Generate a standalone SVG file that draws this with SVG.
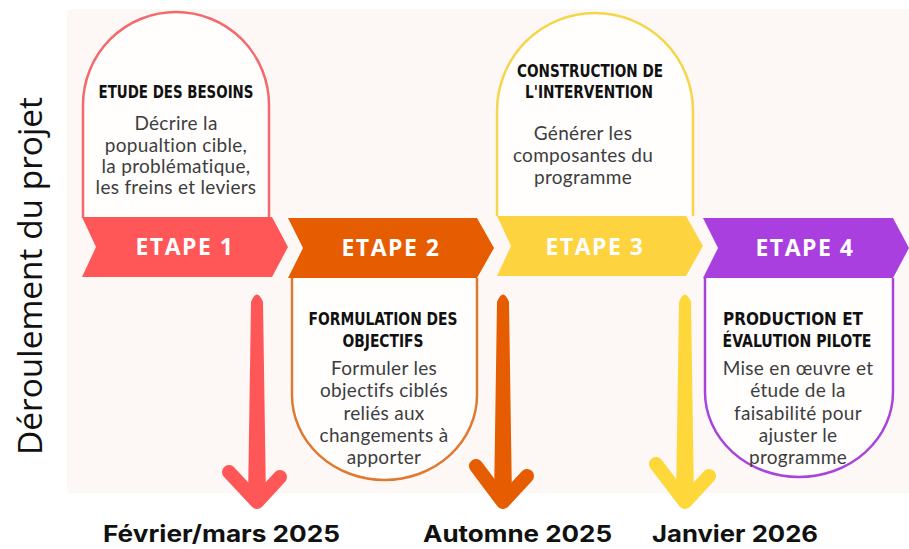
<svg xmlns="http://www.w3.org/2000/svg" width="909" height="549" viewBox="0 0 909 549">
<style>
.title{font-family:"Liberation Sans Narrow","DejaVu Sans",sans-serif;font-stretch:condensed;font-weight:bold;font-size:17px;fill:#111;text-anchor:middle}
.body{font-family:Lato,"Noto Sans",sans-serif;font-size:19px;letter-spacing:0.3px;fill:#3d3d3d;text-anchor:middle}
.etape{font-family:"Open Sans","Liberation Sans",sans-serif;font-weight:bold;font-size:23px;fill:#fff;text-anchor:middle;letter-spacing:1.5px}
.card{fill:#fffefd;stroke-width:2.5}
.date{font-family:Inter,"Liberation Sans",sans-serif;font-weight:bold;font-size:23px;fill:#111}
.arm{fill:none;stroke-width:14;stroke-linecap:round;stroke-linejoin:round}
</style>
<rect x="0" y="0" width="909" height="549" fill="#ffffff"/>
<rect x="67" y="9" width="842" height="484" fill="#fdf8f6"/>
<text transform="translate(42,276) rotate(-90)" font-family="Open Sans, Liberation Sans, sans-serif" font-size="32" fill="#111" text-anchor="middle" textLength="358" lengthAdjust="spacingAndGlyphs">Déroulement du projet</text>

<g id="node-1">
<path class="card" stroke="#f4696c" d="M83,218 V105 A93,93 0 0 1 269,105 V218"/>
<path fill="#ff5757" d="M82,217 L272,217 L288,247 L272,277 L82,277 L96,247 Z"/>
<text class="etape" x="185" y="255">ETAPE 1</text>
<text class="title" x="176" y="98" textLength="155" lengthAdjust="spacingAndGlyphs">ETUDE DES BESOINS</text>
<text class="body" x="176" y="130">Décrire la</text>
<text class="body" x="176" y="152">popualtion cible,</text>
<text class="body" x="176" y="173">la problématique,</text>
<text class="body" x="176" y="194">les freins et leviers</text>
</g>

<g id="node-2">
<path class="card" stroke="#e0792f" d="M292,278 V395 A92.5,85 0 0 0 477,395 V278"/>
<path fill="#e65c00" d="M288,218 L477,218 L494,248 L477,278 L288,278 L303,248 Z"/>
<text class="etape" x="391" y="256">ETAPE 2</text>
<text class="title" x="383" y="325" textLength="149" lengthAdjust="spacingAndGlyphs">FORMULATION DES</text>
<text class="title" x="383" y="347" textLength="81" lengthAdjust="spacingAndGlyphs">OBJECTIFS</text>
<text class="body" x="384" y="375">Formuler les</text>
<text class="body" x="384" y="397">objectifs ciblés</text>
<text class="body" x="384" y="420">reliés aux</text>
<text class="body" x="384" y="442">changements à</text>
<text class="body" x="384" y="464">apporter</text>
</g>

<g id="node-3">
<path class="card" stroke="#f6d54a" d="M497,216 V111 A98,98 0 0 1 693,111 V216"/>
<path fill="#fdd43f" d="M497,216 L686,216 L703,246 L686,276 L497,276 L511,246 Z"/>
<text class="etape" x="595" y="255" fill="#fff8e0">ETAPE 3</text>
<text class="title" x="590" y="77" textLength="146" lengthAdjust="spacingAndGlyphs">CONSTRUCTION DE</text>
<text class="title" x="589" y="98" textLength="128" lengthAdjust="spacingAndGlyphs">L'INTERVENTION</text>
<text class="body" x="583" y="140">Générer les</text>
<text class="body" x="583" y="162">composantes du</text>
<text class="body" x="583" y="184">programme</text>
</g>

<g id="node-4">
<path class="card" stroke="#a843dc" d="M705,278 V392 A94,85 0 0 0 893,392 V278"/>
<path fill="#aa3fe0" d="M703,218 L893,218 L909,248 L893,278 L703,278 L718,248 Z"/>
<text class="etape" x="805" y="256">ETAPE 4</text>
<text class="title" x="793" y="325" textLength="140" lengthAdjust="spacingAndGlyphs">PRODUCTION ET</text>
<text class="title" x="797" y="347" textLength="149" lengthAdjust="spacingAndGlyphs">ÉVALUTION PILOTE</text>
<text class="body" x="798" y="375">Mise en œuvre et</text>
<text class="body" x="798" y="397">étude de la</text>
<text class="body" x="798" y="420">faisabilité pour</text>
<text class="body" x="798" y="442">ajuster le</text>
<text class="body" x="798" y="464">programme</text>
</g>

<g id="connectors">
<g id="arrow-1">
<path fill="#ff5757" d="M251,302 Q257,287 263,302 L266,500 L248,500 Z"/>
<path class="arm" stroke="#ff5757" d="M229,472 L257,502 L280,477"/>
</g>
<g id="arrow-2">
<path fill="#e65c00" d="M497,302 Q503,287 509,302 L512,500 L494,500 Z"/>
<path class="arm" stroke="#e65c00" d="M476,466 L503,502 L527,476"/>
</g>
<g id="arrow-3">
<path fill="#fed83b" d="M679,302 Q685,287 691,302 L694,500 L676,500 Z"/>
<path class="arm" stroke="#fed83b" d="M656,464 L685,502 L709,476"/>
</g>
</g>

<g id="dates">
<text class="date" x="103" y="542" textLength="237" lengthAdjust="spacingAndGlyphs">Février/mars 2025</text>
<text class="date" x="423" y="542" textLength="189" lengthAdjust="spacingAndGlyphs">Automne 2025</text>
<text class="date" x="652" y="542" textLength="166" lengthAdjust="spacingAndGlyphs">Janvier 2026</text>
</g>
</svg>
